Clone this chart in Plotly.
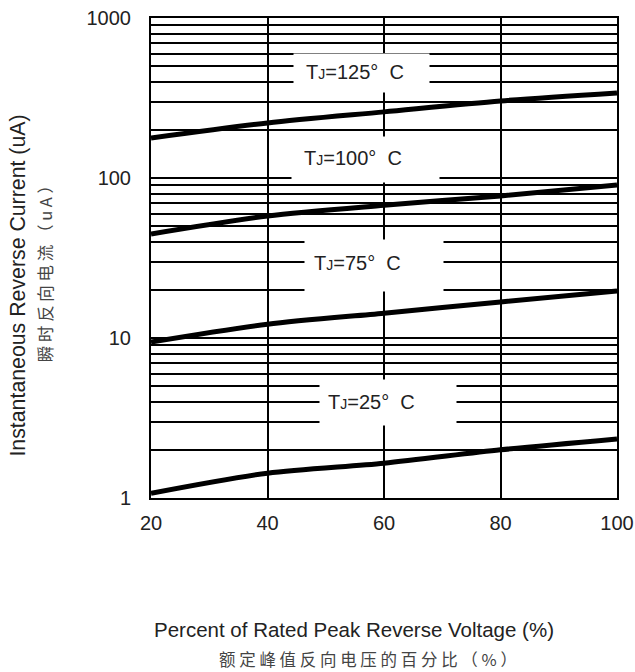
import math
import plotly.graph_objects as go

# Data
x_pct = [20, 40, 60, 80, 100]
tj125 = [178, 221, 259, 303, 340]
tj100 = [44.7, 57.9, 67.6, 77.2, 90.4]
tj75 = [9.44, 12.2, 14.3, 16.8, 19.7]
tj25 = [1.07, 1.43, 1.65, 2.0, 2.34]

series = [("TJ=125", tj125), ("TJ=100", tj100), ("TJ=75", tj75), ("TJ=25", tj25)]

y_major = [1, 10, 100, 1000]
y_major_text = ["1", "10", "100", "1000"]
y_minor = [m * d for d in (1, 10, 100) for m in range(2, 10)]
x_ticks = [20, 40, 60, 80, 100]

# curve labels: (text, text x, text y, box x, box y, box w, box h)
labels = [
    ("125", 55.0, 460, 56.2, 453, 135, 38),
    ("100", 54.7, 133, 56.9, 130, 147, 45),
    ("75", 55.5, 29.4, 58.3, 28.2, 138, 51),
    ("25", 57.8, 3.98, 60.7, 3.98, 136, 45),
]

FONT = "Liberation Sans, Arial, sans-serif"
CJK = "Noto Sans CJK SC, sans-serif"

fig = go.Figure()
for name, ys in series:
    fig.add_trace(go.Scatter(x=x_pct, y=ys, mode="lines", name=name,
                             line=dict(color="black", width=5, shape="spline", smoothing=0.8),
                             showlegend=False, hoverinfo="skip"))

for t, tx, ty, bx, by, bw, bh in labels:
    fig.add_annotation(x=bx, y=math.log10(by), xref="x", yref="y", yanchor="middle",
                       xanchor="center", text=" ", showarrow=False, width=bw, height=bh,
                       bgcolor="white", borderpad=0)
    fig.add_annotation(x=tx, y=math.log10(ty), xref="x", yref="y", showarrow=False,
                       xanchor="center", yanchor="middle",
                       text=f"T<span style='font-size:14px'>J</span>={t}°  C",
                       font=dict(family=FONT, size=20, color="#222"))

def spaced(s):
    return " ".join(list(s))

# axis titles
fig.add_annotation(x=0.436, y=-0.273, xref="paper", yref="paper", showarrow=False,
                   xanchor="center", yanchor="middle",
                   text="Percent of Rated Peak Reverse Voltage (%)",
                   font=dict(family=FONT, size=20.5, color="#222"))
fig.add_annotation(x=0.466, y=-0.335, xref="paper", yref="paper", showarrow=False,
                   xanchor="center", yanchor="middle",
                   text=spaced("额定峰值反向电压的百分比（%）"),
                   font=dict(family=CJK, size=16.5, color="#444"))
fig.add_annotation(x=-0.285, y=0.443, xref="paper", yref="paper", showarrow=False,
                   xanchor="center", yanchor="middle",
                   text="Instantaneous Reverse Current (uA)", textangle=-90,
                   font=dict(family=FONT, size=21.3, color="#222"))
fig.add_annotation(x=-0.227, y=0.475, xref="paper", yref="paper", showarrow=False,
                   xanchor="center", yanchor="middle",
                   text=spaced("瞬时反向电流（uA）"), textangle=-90,
                   font=dict(family=CJK, size=16.5, color="#444"))

fig.update_xaxes(range=[20, 100], tickvals=x_ticks, showgrid=True, gridcolor="black",
                 gridwidth=1.5, zeroline=False, showline=True, linecolor="black",
                 linewidth=2, mirror=True, ticks="", ticklabelstandoff=6, automargin=False,
                 tickfont=dict(family=FONT, size=20, color="#222"))
fig.update_yaxes(type="log", range=[0, 3], tickvals=y_major, ticktext=y_major_text,
                 showgrid=True, gridcolor="black", gridwidth=1.5, zeroline=False,
                 showline=True, linecolor="black", linewidth=2, mirror=True, ticks="",
                 ticklabelstandoff=14, automargin=False,
                 minor=dict(tickvals=y_minor, showgrid=True, gridcolor="black", gridwidth=1.5,
                            ticks=""),
                 tickfont=dict(family=FONT, size=20, color="#222"))

fig.update_layout(width=635, height=672, margin=dict(l=151, r=18, t=18, b=174),
                  paper_bgcolor="white", plot_bgcolor="white", autosize=False)

fig.write_html("out.html", config={"displayModeBar": False},
               post_script="document.body.style.margin='0';document.body.style.overflow='hidden';")
